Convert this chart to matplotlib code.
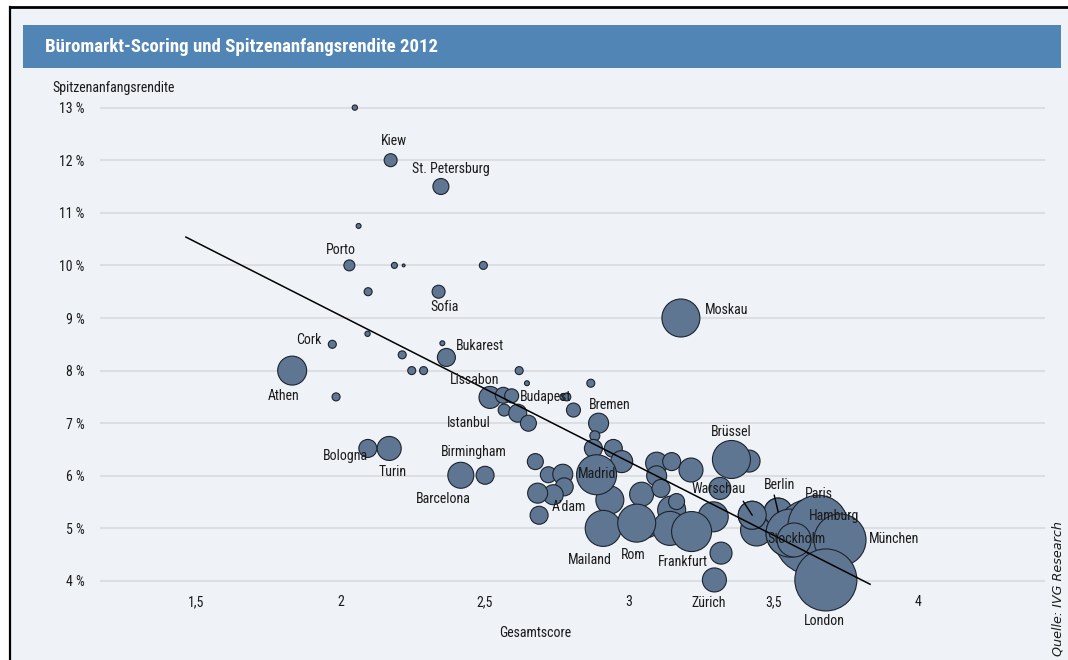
import numpy as np
import matplotlib
matplotlib.use("Agg")
import matplotlib.pyplot as plt
from matplotlib import font_manager
from matplotlib.patches import Rectangle
from matplotlib.lines import Line2D

# ---------------------------------------------------------------------------
# Daten: Gesamtscore, Spitzenanfangsrendite (%) und Marktgröße je Standort
# ---------------------------------------------------------------------------
staedte = [
    "", "", "", "", "", "", "Cork", "", "", "", "", "", "", "", "", "",
    "", "Budapest", "",
    "Lissabon", "", "", "", "", "Istanbul", "Bremen", "",
    "", "", "", "", "A’dam", "", "", "", "", "",
    "", "", "", "", "", "", "", "", "", "",
    "", "", "", "",
    "Brüssel", "", "", "", "", "",
    "Berlin", "Paris", "", "Hamburg", "München", "Stockholm",
    "Athen", "Porto", "Kiew", "St. Petersburg", "Sofia", "Bukarest",
    "Bologna", "Turin", "Barcelona", "Birmingham", "Moskau",
    "Mailand", "Madrid", "Rom", "Frankfurt", "Zürich", "Warschau", "London",
]

gesamtscore = [
    2.05, 2.063, 2.187, 2.219, 2.495, 2.096, 1.972, 2.094, 2.214, 2.247, 2.288, 1.985, 2.353, 2.619, 2.646, 2.867,
    2.772, 2.784, 2.807,
    2.518, 2.564, 2.593, 2.567, 2.614, 2.651, 2.894, 2.881,
    2.675, 2.720, 2.770, 2.775, 2.737, 2.683, 2.688, 2.876, 2.945, 2.974,
    2.933, 3.066, 3.043, 3.095, 3.147, 3.214, 3.095, 3.110, 3.147, 3.164,
    3.141, 3.291, 3.318, 3.415,
    3.354, 3.314, 3.441, 3.557, 3.515, 3.426,
    3.516, 3.633, 3.557, 3.654, 3.730, 3.571,
    1.833, 2.031, 2.174, 2.348, 2.340, 2.367,
    2.095, 2.169, 2.417, 2.501, 3.179,
    2.910, 2.887, 3.026, 3.216, 3.295, 3.426, 3.681,
]

rendite = [
    13.0, 10.75, 10.0, 10.0, 10.0, 9.5, 8.5, 8.7, 8.3, 8.0, 8.0, 7.5, 8.52, 8.0, 7.76, 7.76,
    7.5, 7.5, 7.25,
    7.49, 7.53, 7.52, 7.25, 7.19, 7.0, 7.0, 6.76,
    6.27, 6.02, 6.03, 5.79, 5.64, 5.67, 5.25, 6.52, 6.52, 6.27,
    5.54, 5.0, 5.65, 6.24, 6.27, 6.11, 6.0, 5.76, 5.35, 5.51,
    5.0, 5.22, 4.53, 6.28,
    6.31, 5.76, 4.97, 4.91, 5.31, 5.25,
    5.31, 4.84, 4.91, 5.06, 4.78, 4.78,
    8.0, 10.0, 12.0, 11.5, 9.5, 8.25,
    6.52, 6.52, 6.01, 6.01, 9.0,
    5.0, 6.02, 5.1, 4.94, 4.02, 5.25, 4.02,
]

# Marktgröße (Index)
groesse = [
    7, 6, 9, 2, 16, 16, 16, 7, 16, 16, 16, 16, 6, 16, 6, 16,
    12, 16, 49,
    121, 64, 49, 36, 81, 64, 100, 25,
    64, 64, 100, 81, 100, 100, 81, 81, 81, 121,
    196, 81, 144, 121, 81, 144, 100, 81, 196, 64,
    289, 225, 121, 121,
    361, 121, 256, 576, 196, 196,
    196, 1444, 576, 900, 676, 289,
    210, 30, 42, 64, 42, 81,
    81, 144, 169, 81, 361,
    324, 400, 361, 400, 144, 196, 961,
]

# Lineare Trendlinie (Rendite = a + b * Score)
trend_a, trend_b = 14.62, -2.786
trend_x = [1.465, 3.834]

y_ticks = list(range(4, 14))
y_ticklabels = [f"{v} %" for v in y_ticks]
x_ticks = [1.5, 2.0, 2.5, 3.0, 3.5, 4.0]
x_ticklabels = ["1,5", "2", "2,5", "3", "3,5", "4"]

titel = "Büromarkt-Scoring und Spitzenanfangsrendite 2012"
quelle = "Quelle: IVG Research"

# ---------------------------------------------------------------------------
# Schrift
# ---------------------------------------------------------------------------
available = {f.name for f in font_manager.fontManager.ttflist}
narrow = next((n for n in ["Liberation Sans Narrow", "Roboto Condensed",
                           "Open Sans Condensed", "DejaVu Sans"] if n in available),
              "DejaVu Sans")
plt.rcParams["font.family"] = [narrow, "DejaVu Sans"]

W, H, DPI = 1068, 660, 100
BG = "#EFF2F7"
BUBBLE = "#5F7692"
EDGE = "#1C232C"
GRID = "#DCDEE2"
TXT = "#1a1a1a"
FS = 10

fig = plt.figure(figsize=(W / DPI, H / DPI), dpi=DPI, facecolor="white")

def fx(px):
    return px / W

def fy(py):
    return 1 - py / H

# Hintergrundfläche mit Rahmen links und oben
fig.patches.append(Rectangle((fx(10), 0), 1 - fx(10), fy(7), transform=fig.transFigure,
                             facecolor=BG, edgecolor="none", zorder=-3))
fig.lines.append(Line2D([fx(10), fx(10)], [0, fy(7)], transform=fig.transFigure,
                        color="black", lw=1.6, zorder=-2))
fig.lines.append(Line2D([fx(10), 1], [fy(6.5), fy(6.5)], transform=fig.transFigure,
                        color="black", lw=2.0, zorder=-2))

# Titelleiste
fig.patches.append(Rectangle((fx(23), fy(68)), fx(1061 - 23), (68 - 25) / H,
                             transform=fig.transFigure, facecolor="#5185B6",
                             edgecolor="none", zorder=-2))
fig.text(fx(45), fy(46.5), titel, color="white", fontsize=13.5, fontweight="bold",
         va="center", ha="left")

# Achsen: 1 Score = 288.8 px, 1 %-Punkt = 52.6 px
ax_left, ax_right, ax_top, ax_bottom = 100, 1045, 95, 588
ax = fig.add_axes([fx(ax_left), fy(ax_bottom), (ax_right - ax_left) / W,
                   (ax_bottom - ax_top) / H])
ax.set_zorder(2)
ax.set_facecolor("none")
ax.set_xlim(1.5 - (196 - ax_left) / 288.8, 1.5 + (ax_right - 196) / 288.8)
ax.set_ylim(4 - (ax_bottom - 581) / 52.6, 4 + (581 - ax_top) / 52.6)
for s in ax.spines.values():
    s.set_visible(False)

for v in y_ticks:
    ax.axhline(v, color=GRID, lw=1.5, zorder=1)

ax.set_yticks(y_ticks)
ax.set_yticklabels(y_ticklabels)
ax.set_xticks(x_ticks)
ax.set_xticklabels(x_ticklabels)
ax.tick_params(axis="both", length=0, labelsize=FS, colors=TXT)
ax.tick_params(axis="y", pad=11)
ax.tick_params(axis="x", pad=5)

# Trendlinie
tx = np.array(trend_x)
ax.plot(tx, trend_a + trend_b * tx, color="black", lw=1.1, zorder=4)

# Blasen
px2pt = 72 / DPI
sizes = np.array(groesse) * (2 * px2pt) ** 2
ax.scatter(gesamtscore, rendite, s=sizes, c=BUBBLE, edgecolors=EDGE,
           linewidths=0.8, zorder=3, clip_on=False)

# Beschriftungen (Versatz in Pixel relativ zur Blasenmitte)
label_offsets = {
    "Kiew": (3, -19, "center"), "St. Petersburg": (10, -17, "center"),
    "Porto": (-8, -15, "center"), "Sofia": (6, 15, "center"),
    "Cork": (-24, -4, "center"), "Bukarest": (34, -11, "center"),
    "Athen": (-9, 25, "center"), "Lissabon": (-15, -17, "center"),
    "Budapest": (-21, 0, "center"), "Istanbul": (-60, 0, "center"),
    "Bremen": (11, -18, "center"), "Bologna": (-22, 8, "center"),
    "Turin": (3, 24, "center"), "Birmingham": (-11, -23, "center"),
    "Barcelona": (-18, 24, "center"), "Madrid": (0, -1, "center"),
    "A’dam": (16, 12, "center"), "Warschau": (-34, -26, "center"),
    "Brüssel": (0, -27, "center"), "Berlin": (1, -27, "center"),
    "Paris": (7, -43, "center"), "Hamburg": (16, -9, "center"),
    "Stockholm": (2, -1, "center"), "München": (29, -1, "left"),
    "London": (-1, 41, "center"), "Mailand": (-13, 32, "center"),
    "Rom": (-3, 32, "center"), "Frankfurt": (-9, 30, "center"),
    "Zürich": (-6, 23, "center"), "Moskau": (24, -8, "left"),
}
for name, x, y in zip(staedte, gesamtscore, rendite):
    if name in label_offsets:
        dx, dy, ha = label_offsets[name]
        ax.annotate(name, (x, y), xytext=(dx * px2pt, -dy * px2pt),
                    textcoords="offset points", ha=ha, va="center",
                    fontsize=FS, color=TXT, zorder=6, annotation_clip=False)

# Hinweisstriche
leaders = {"Warschau": (-9, -14), "Berlin": (-4, -17)}
for name, (dx, dy) in leaders.items():
    i = staedte.index(name)
    ax.annotate("", (gesamtscore[i], rendite[i]),
                xytext=(dx * px2pt, -dy * px2pt), textcoords="offset points",
                arrowprops=dict(arrowstyle="-", color="black", lw=1.0,
                                shrinkA=0, shrinkB=0), zorder=6)

# Achsentitel
fig.text(fx(52), fy(88), "Spitzenanfangsrendite", fontsize=FS, ha="left",
         va="center", color=TXT)
fig.text(fx(535), fy(633), "Gesamtscore", fontsize=FS, ha="center",
         va="center", color=TXT)
fig.text(fx(1058), fy(588), quelle, fontsize=9.2, style="italic", rotation=90,
         ha="center", va="center", color=TXT, family="DejaVu Sans")

fig.savefig("out.png", dpi=DPI, facecolor=fig.get_facecolor())
